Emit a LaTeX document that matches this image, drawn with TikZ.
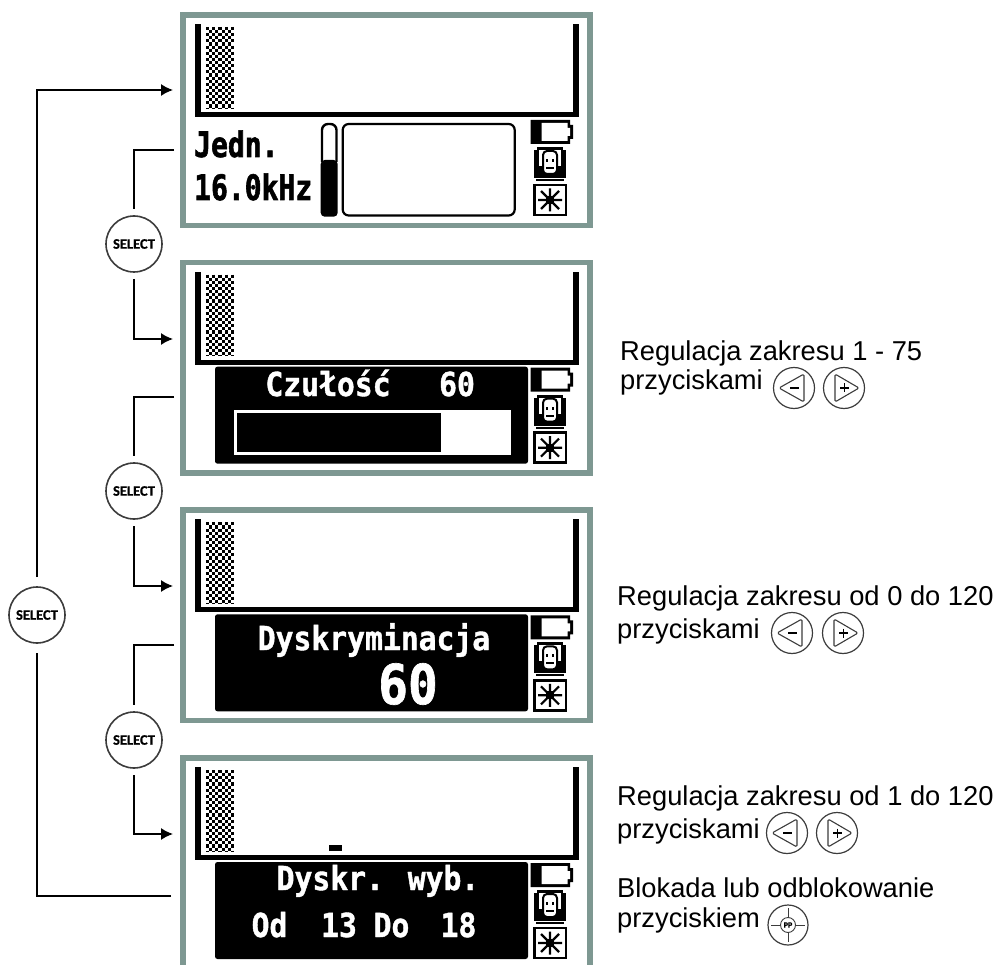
\documentclass[tikz,border=0pt]{standalone}
\usepackage{fontspec}
\usepackage{xcolor}
\usetikzlibrary{arrows.meta}
\setmainfont{Liberation Sans}
\newfontfamily\lcdfont[FakeStretch=0.9,BoldFeatures={FakeBold=1.2}]{DejaVu Sans Mono}
\newfontfamily\lcdnarrow[FakeStretch=0.8,BoldFeatures={FakeBold=1.6}]{DejaVu Sans Mono}
\newfontfamily\selfont[BoldFeatures={FakeBold=0.6}]{Carlito}
\definecolor{framegray}{RGB}{126,152,146}
\definecolor{ringgray}{RGB}{60,60,60}
\tikzset{
  lcdframe/.style={draw=framegray, line width=5.5pt},
  checker/.style={line width=3.1pt, dash pattern=on 3.1pt off 3.1pt},
  lcdtext/.style={inner sep=0pt, font=\lcdnarrow\bfseries\fontsize{35}{38}\selectfont},
  lcdwhite/.style={inner sep=0pt, text=white, font=\lcdfont\bfseries\fontsize{33}{36}\selectfont},
  lcdlarge/.style={inner sep=0pt, text=white, font=\lcdfont\bfseries\fontsize{55}{58}\selectfont},
  notetext/.style={anchor=base west, inner sep=0pt, font=\fontsize{27.3}{30}\selectfont},
  selbutton/.style={circle, draw=ringgray, line width=1.6pt, fill=white, minimum size=56pt, inner sep=0pt, outer sep=7pt,
    font=\selfont\bfseries\fontsize{14.5}{16}\selectfont},
  conn/.style={line width=1.5pt},
  connarrow/.style={line width=1.5pt, -{Latex[length=12pt,width=12pt]}},
  pics/lcdbase/.style={code={
    % graph area
    \fill (194.5,12) rectangle (200.7,105);
    \fill (572.7,12) rectangle (579,105);
    \fill (194.5,100) rectangle (579,105);
    \foreach \cx in {207.55,213.75,...,235} \draw[checker] (\cx,15) -- (\cx,96);
    \foreach \cx in {210.65,216.85,...,235} \draw[checker, dash phase=3.1pt] (\cx,15) -- (\cx,96);
    % battery
    \fill (530.7,108) -- (570,108) -- (570,113) -- (573,113) -- (573,127) -- (570,127) -- (570,132) -- (530.7,132) -- cycle;
    \fill[white] (541.5,111) -- (567.5,111) -- (567.5,116) -- (570,116) -- (570,124) -- (567.5,124) -- (567.5,129) -- (541.5,129) -- cycle;
    % head icon
    \fill (537,135) rectangle (563,138);
    \fill (534,138) rectangle (539,166);
    \fill (561,138) rectangle (566,166);
    \fill (534,154) rectangle (566,166);
    \fill (536,167) rectangle (564,169);
    \draw[line width=2pt, fill=white, rounded corners=4pt] (543,139) rectangle (557,162);
    \fill (546,147) rectangle (548,150);
    \fill (552,147) rectangle (554,150);
    \fill (546,155) rectangle (554,157);
    % light icon
    \draw[line width=2.8pt] (534.5,173) rectangle (566,203);
    \draw[line width=2.2pt] (550,176.5) -- (550,199.5) (538,188) -- (562,188) (541,179) -- (559,197) (541,197) -- (559,179);
    \fill (546,184) rectangle (554,192);
  }},
  pics/lcdpanel/.style={code={
    \fill[rounded corners=2.5pt] (215,107) rectangle (528,204);
  }},
  pics/minusbutton/.style={code={
    \draw[ringgray, line width=1.2pt] (0,0) circle (20.5);
    \draw[ringgray, line width=1.1pt, rounded corners=1.5pt, line join=round] (-15,0) -- (10,-14) -- (10,14) -- cycle;
    \draw[line width=1.4pt] (-4,0) -- (5,0);
  }},
  pics/plusbutton/.style={code={
    \draw[ringgray, line width=1.2pt] (0,0) circle (20.5);
    \draw[ringgray, line width=1.1pt, rounded corners=1.5pt, line join=round] (15,0) -- (-9,-14) -- (-9,14) -- cycle;
    \draw[line width=1.4pt] (-4,0) -- (5,0) (0.5,-4.5) -- (0.5,4.5);
  }},
  pics/ppbutton/.style={code={
    \draw[ringgray, line width=1.2pt] (0,0) circle (20);
    \node[circle, draw=ringgray, line width=0.9pt, minimum size=15pt, inner sep=0pt, font=\selfont\bfseries\fontsize{8}{9}\selectfont] (mark) at (0,0) {PP};
    \draw[ringgray, line width=1pt] (mark.north) -- (0,-17) (mark.south) -- (0,17) (mark.west) -- (-17,0) (mark.east) -- (17,0);
  }},
}
\begin{document}
\begin{tikzpicture}[x=1pt,y=-1pt]
  \useasboundingbox (0,0) rectangle (996,965);
  % the four screens
  \draw[lcdframe] (182.8,14.8) rectangle (590,225.3);
  \draw[lcdframe] (182.8,262.5) rectangle (590,473);
  \draw[lcdframe] (182.8,510) rectangle (590,720.6);
  \draw[lcdframe] (182.8,970) -- (182.8,757.8) -- (590,757.8) -- (590,970);
  \foreach \py in {12,259.67,507.33,755} \pic at (0,\py) {lcdbase};
  % screen 1
  \node[lcdtext, anchor=base west] (unit) at (194,157) {Jedn.};
  \node[lcdtext, anchor=base west] (freq) at (194,200) {16.0kHz};
  \fill[rounded corners=4pt] (320.7,160) rectangle (337.7,216.7);
  \draw[line width=2.4pt, rounded corners=6pt] (322,162) -- (322,124) -- (336.5,124) -- (336.5,162);
  \draw[line width=2.2pt, rounded corners=6pt] (342.7,124) rectangle (514.7,215.5);
  % screen 2
  \pic at (0,259.67) {lcdpanel};
  \node[lcdwhite, anchor=base] (czul) at (328,396) {Czułość};
  \node[lcdwhite, anchor=base] (czulval) at (457,396) {60};
  \fill[white] (234,410) rectangle (510.7,455);
  \fill (237,412.7) rectangle (440.7,451.7);
  % screen 3
  \pic at (0,507.33) {lcdpanel};
  \node[lcdwhite, anchor=base] (dysk) at (374,650) {Dyskryminacja};
  \node[lcdlarge, anchor=base] (dyskval) at (408,704) {60};
  % screen 4
  \pic at (0,755) {lcdpanel};
  \fill (329,845) rectangle (342,851);
  \node[lcdwhite, anchor=base] (wyb) at (378,890) {Dyskr. wyb.};
  \node[lcdwhite, anchor=base] (odlab) at (269.5,937) {Od};
  \node[lcdwhite, anchor=base] (odval) at (339,937) {13};
  \node[lcdwhite, anchor=base] (dolab) at (391.5,937) {Do};
  \node[lcdwhite, anchor=base] (doval) at (458.5,937) {18};
  % select buttons
  \node[selbutton] (sel1) at (134,244) {SELECT};
  \node[selbutton] (sel2) at (134,491) {SELECT};
  \node[selbutton] (sel3) at (134,740) {SELECT};
  \node[selbutton, outer sep=10pt] (selall) at (37,615) {SELECT};
  \coordinate (in1) at (173,90);
  \coordinate (in2) at (173,339);
  \coordinate (in3) at (173,586);
  \coordinate (in4) at (173,834);
  \coordinate (out1) at (174,150);
  \coordinate (out2) at (174,397);
  \coordinate (out3) at (174,645);
  \coordinate (out4) at (171,896);
  \draw[conn] (out1) -| (sel1.north);
  \draw[connarrow] (sel1.south) |- (in2);
  \draw[conn] (out2) -| (sel2.north);
  \draw[connarrow] (sel2.south) |- (in3);
  \draw[conn] (out3) -| (sel3.north);
  \draw[connarrow] (sel3.south) |- (in4);
  \draw[conn] (out4) -| (selall.south);
  \draw[connarrow] (selall.north) |- (in1);
  % notes on the right
  \node[notetext] (note1) at (620,361) {Regulacja zakresu 1 - 75};
  \node[notetext] (note1b) at (620,390) {przyciskami};
  \pic at (794,388) {minusbutton};
  \pic at (844,388) {plusbutton};
  \node[notetext] (note2) at (617,605) {Regulacja zakresu od 0 do 120};
  \node[notetext] (note2b) at (617,638) {przyciskami};
  \pic at (792,633) {minusbutton};
  \pic at (843,633) {plusbutton};
  \node[notetext] (note3) at (617,805) {Regulacja zakresu od 1 do 120};
  \node[notetext] (note3b) at (617,838) {przyciskami};
  \pic at (787,833) {minusbutton};
  \pic at (837,833) {plusbutton};
  \node[notetext] (note4) at (617,897) {Blokada lub odblokowanie};
  \node[notetext] (note4b) at (617,927) {przyciskiem};
  \pic (pp) at (788,925) {ppbutton};
\end{tikzpicture}
\end{document}
